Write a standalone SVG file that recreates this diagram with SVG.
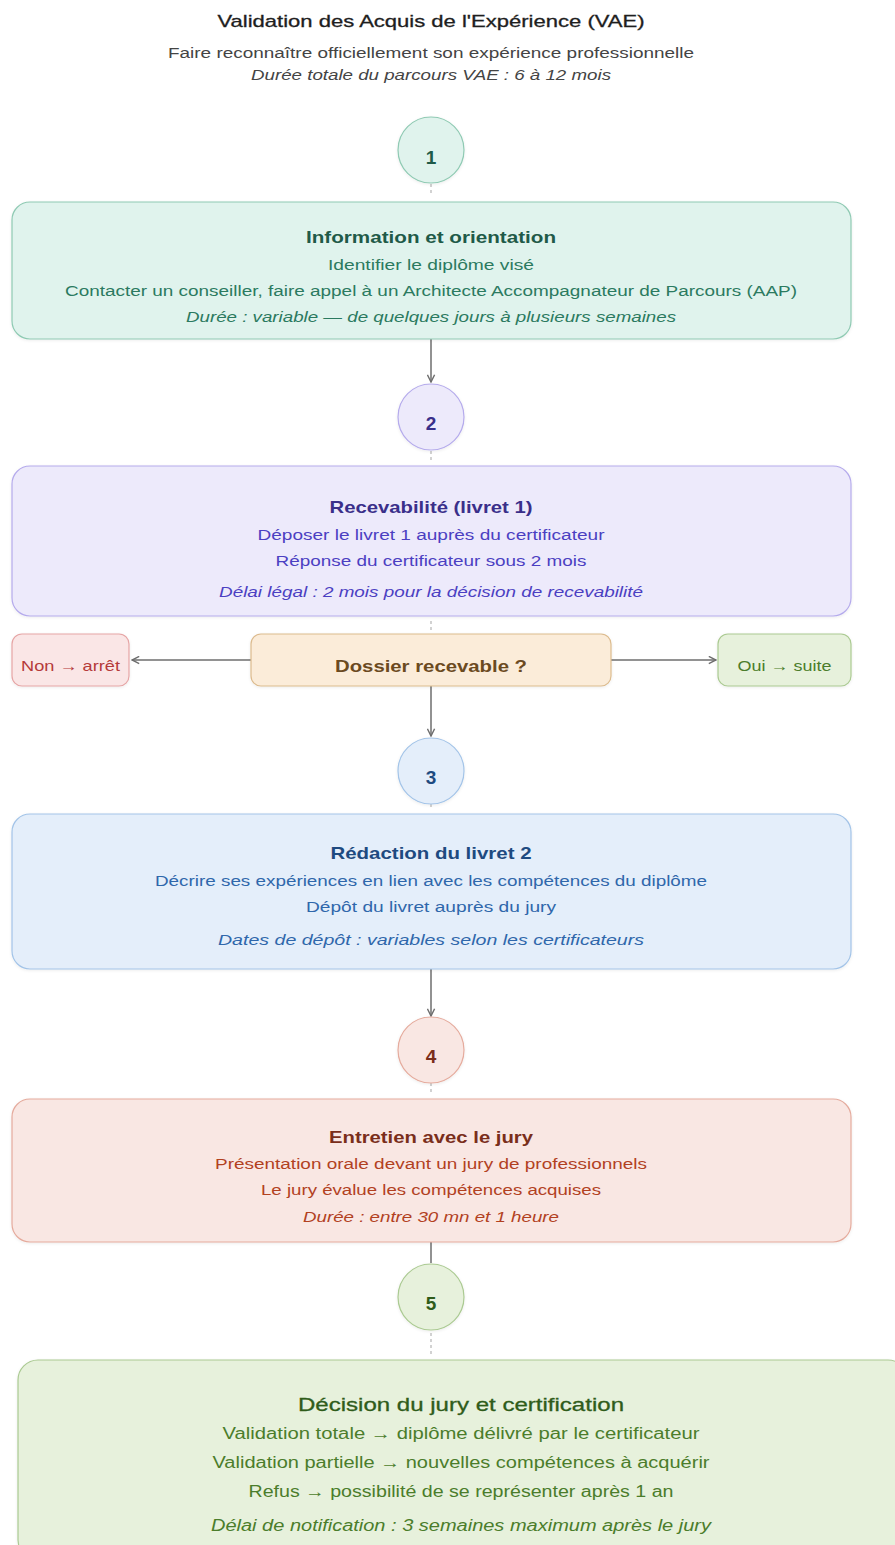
<svg xmlns="http://www.w3.org/2000/svg" width="895" height="1545" viewBox="0 0 895 1545">
<style>
text{font-family:"Liberation Sans",Arial,sans-serif;text-anchor:middle}
.h{font-size:17px;font-weight:bold}
.t{font-size:15.5px}
.i{font-size:15.5px;font-style:italic}
.num{font-size:19px;font-weight:bold}
.box{stroke-width:1.2}
.conn{stroke:#6e6e6e;stroke-width:1.5;fill:none}
.tick{stroke:#c4c4c4;stroke-width:1.5;stroke-dasharray:3 3}
.teal .f{fill:#e0f3ed;stroke:#8fcab3}.teal .h,.teal .num{fill:#1f5a48}.teal .t,.teal .i{fill:#2b7a60}
.purp .f{fill:#edeafb;stroke:#b5abec}.purp .h,.purp .num{fill:#3a2f8a}.purp .t,.purp .i{fill:#4b3fc2}
.blue .f{fill:#e4eefa;stroke:#a3c4e8}.blue .h,.blue .num{fill:#1e4a80}.blue .t,.blue .i{fill:#2f67ab}
.red .f{fill:#f9e7e3;stroke:#e5ab9d}.red .h,.red .num{fill:#7a2e1b}.red .t,.red .i{fill:#b2411f}
.green .f{fill:#e7f1dc;stroke:#abca92}.green .h,.green .num{fill:#2f5c1a}.green .t,.green .i{fill:#4b7d2b}
</style>
<defs>
<marker id="arr" viewBox="0 0 10 10" refX="9" refY="5" markerWidth="9" markerHeight="9" markerUnits="userSpaceOnUse" orient="auto">
<path d="M1,1 L9,5 L1,9" fill="none" stroke="#6e6e6e" stroke-width="1.6"/>
</marker>
<filter id="sh" x="-5%" y="-10%" width="110%" height="130%">
<feDropShadow dx="0" dy="1" stdDeviation="1.5" flood-color="#000" flood-opacity="0.08"/>
</filter>
</defs>
<rect width="895" height="1545" fill="#ffffff"/>

<g id="header">
<text x="431" y="27" style="font-size:17px" fill="#1e1e1e" stroke="#1e1e1e" stroke-width="0.3" textLength="427" lengthAdjust="spacingAndGlyphs">Validation des Acquis de l'Expérience (VAE)</text>
<text x="431" y="58" style="font-size:14px" fill="#444" textLength="526" lengthAdjust="spacingAndGlyphs">Faire reconnaître officiellement son expérience professionnelle</text>
<text x="431" y="80" style="font-size:14px;font-style:italic" fill="#444" textLength="360" lengthAdjust="spacingAndGlyphs">Durée totale du parcours VAE : 6 à 12 mois</text>
</g>

<g id="connectors">
<line class="tick" x1="431" y1="184" x2="431" y2="196"/>
<line class="conn" x1="431" y1="339" x2="431" y2="382" marker-end="url(#arr)"/>
<line class="tick" x1="431" y1="451" x2="431" y2="461"/>
<line class="tick" x1="431" y1="621" x2="431" y2="630"/>
<line class="conn" x1="251" y1="660" x2="132" y2="660" marker-end="url(#arr)"/>
<line class="conn" x1="611" y1="660" x2="716" y2="660" marker-end="url(#arr)"/>
<line class="conn" x1="431" y1="686" x2="431" y2="736" marker-end="url(#arr)"/>
<line class="tick" x1="431" y1="804" x2="431" y2="810"/>
<line class="conn" x1="431" y1="969" x2="431" y2="1016" marker-end="url(#arr)"/>
<line class="tick" x1="431" y1="1083" x2="431" y2="1094"/>
<line class="conn" x1="431" y1="1242" x2="431" y2="1263"/>
<line class="tick" x1="431" y1="1333" x2="431" y2="1355"/>
</g>

<g id="step1" class="teal">
<circle class="f box" cx="431" cy="150" r="33" filter="url(#sh)"/>
<text class="num" x="431" y="164">1</text>
</g>
<g id="node1" class="teal">
<rect class="f box" x="12" y="202" width="839" height="137" rx="18" filter="url(#sh)"/>
<text class="h" x="431" y="243" textLength="250" lengthAdjust="spacingAndGlyphs">Information et orientation</text>
<text class="t" x="431" y="270" textLength="206" lengthAdjust="spacingAndGlyphs">Identifier le diplôme visé</text>
<text class="t" x="431" y="296" textLength="732" lengthAdjust="spacingAndGlyphs">Contacter un conseiller, faire appel à un Architecte Accompagnateur de Parcours (AAP)</text>
<text class="i" x="431" y="322" textLength="490" lengthAdjust="spacingAndGlyphs">Durée : variable — de quelques jours à plusieurs semaines</text>
</g>

<g id="step2" class="purp">
<circle class="f box" cx="431" cy="417" r="33" filter="url(#sh)"/>
<text class="num" x="431" y="430">2</text>
</g>
<g id="node2" class="purp">
<rect class="f box" x="12" y="466" width="839" height="150" rx="18" filter="url(#sh)"/>
<text class="h" x="431" y="513" textLength="203" lengthAdjust="spacingAndGlyphs">Recevabilité (livret 1)</text>
<text class="t" x="431" y="540" textLength="347" lengthAdjust="spacingAndGlyphs">Déposer le livret 1 auprès du certificateur</text>
<text class="t" x="431" y="566" textLength="311" lengthAdjust="spacingAndGlyphs">Réponse du certificateur sous 2 mois</text>
<text class="i" x="431" y="597" textLength="424" lengthAdjust="spacingAndGlyphs">Délai légal : 2 mois pour la décision de recevabilité</text>
</g>

<g id="decision">
<rect x="251" y="634" width="360" height="52" rx="10" fill="#fbecd9" stroke="#dcbb8e" stroke-width="1.2" filter="url(#sh)"/>
<text x="431" y="672" style="font-size:17px;font-weight:bold" fill="#6b4a1f" textLength="192" lengthAdjust="spacingAndGlyphs">Dossier recevable ?</text>
</g>
<g id="non">
<rect x="12" y="634" width="117" height="52" rx="10" fill="#fae6e6" stroke="#e6a5a5" stroke-width="1.2" filter="url(#sh)"/>
<text x="70.5" y="671" style="font-size:15px" fill="#b53a3a" textLength="99" lengthAdjust="spacingAndGlyphs">Non → arrêt</text>
</g>
<g id="oui">
<rect x="718" y="634" width="133" height="52" rx="10" fill="#e7f1dc" stroke="#abca92" stroke-width="1.2" filter="url(#sh)"/>
<text x="784.5" y="671" style="font-size:15px" fill="#4b7d2b" textLength="94" lengthAdjust="spacingAndGlyphs">Oui → suite</text>
</g>

<g id="step3" class="blue">
<circle class="f box" cx="431" cy="771" r="33" filter="url(#sh)"/>
<text class="num" x="431" y="784">3</text>
</g>
<g id="node3" class="blue">
<rect class="f box" x="12" y="814" width="839" height="155" rx="18" filter="url(#sh)"/>
<text class="h" x="431" y="859" textLength="201" lengthAdjust="spacingAndGlyphs">Rédaction du livret 2</text>
<text class="t" x="431" y="886" textLength="552" lengthAdjust="spacingAndGlyphs">Décrire ses expériences en lien avec les compétences du diplôme</text>
<text class="t" x="431" y="912" textLength="250" lengthAdjust="spacingAndGlyphs">Dépôt du livret auprès du jury</text>
<text class="i" x="431" y="945" textLength="426" lengthAdjust="spacingAndGlyphs">Dates de dépôt : variables selon les certificateurs</text>
</g>

<g id="step4" class="red">
<circle class="f box" cx="431" cy="1050" r="33" filter="url(#sh)"/>
<text class="num" x="431" y="1063">4</text>
</g>
<g id="node4" class="red">
<rect class="f box" x="12" y="1099" width="839" height="143" rx="18" filter="url(#sh)"/>
<text class="h" x="431" y="1143" textLength="204" lengthAdjust="spacingAndGlyphs">Entretien avec le jury</text>
<text class="t" x="431" y="1169" textLength="432" lengthAdjust="spacingAndGlyphs">Présentation orale devant un jury de professionnels</text>
<text class="t" x="431" y="1195" textLength="340" lengthAdjust="spacingAndGlyphs">Le jury évalue les compétences acquises</text>
<text class="i" x="431" y="1222" textLength="256" lengthAdjust="spacingAndGlyphs">Durée : entre 30 mn et 1 heure</text>
</g>

<g id="step5" class="green">
<circle class="f box" cx="431" cy="1297" r="33" filter="url(#sh)"/>
<text class="num" x="431" y="1310">5</text>
</g>
<g id="node5" class="green">
<rect class="f box" x="18" y="1360" width="890" height="200" rx="20" filter="url(#sh)"/>
<text class="h" x="461" y="1411" style="font-size:19px;font-weight:normal" stroke="#2f5c1a" stroke-width="0.3" textLength="326" lengthAdjust="spacingAndGlyphs">Décision du jury et certification</text>
<text class="t" x="461" y="1439" style="font-size:16px" textLength="477" lengthAdjust="spacingAndGlyphs">Validation totale → diplôme délivré par le certificateur</text>
<text class="t" x="461" y="1468" style="font-size:16px" textLength="497" lengthAdjust="spacingAndGlyphs">Validation partielle → nouvelles compétences à acquérir</text>
<text class="t" x="461" y="1497" style="font-size:16px" textLength="425" lengthAdjust="spacingAndGlyphs">Refus → possibilité de se représenter après 1 an</text>
<text class="i" x="461" y="1531" style="font-size:16px" textLength="500" lengthAdjust="spacingAndGlyphs">Délai de notification : 3 semaines maximum après le jury</text>
</g>
</svg>
